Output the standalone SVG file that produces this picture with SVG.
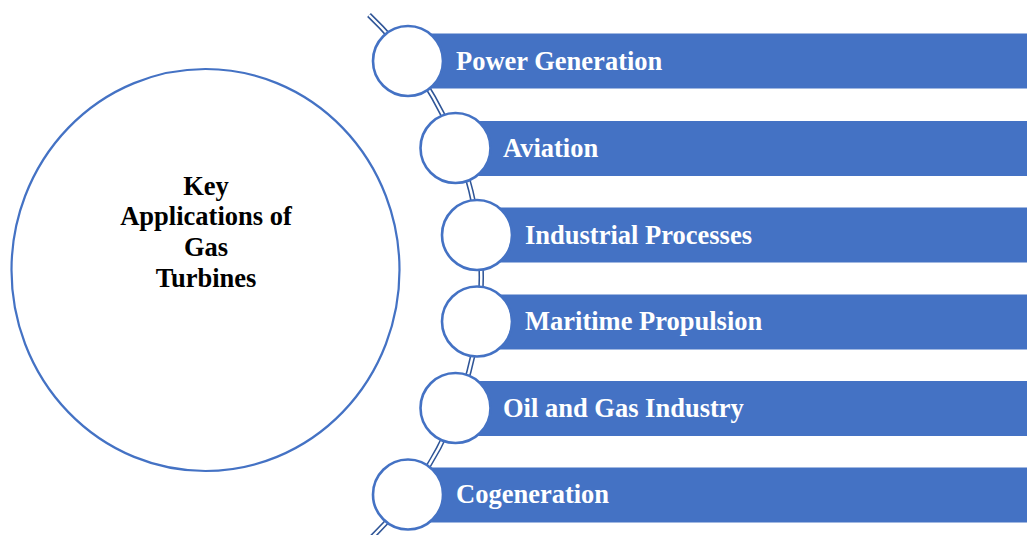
<svg xmlns="http://www.w3.org/2000/svg" width="1027" height="535" viewBox="0 0 1027 535">
  <style>
    .bar { fill: #4472C4; }
    .dot { fill: #FFFFFF; stroke: #4472C4; stroke-width: 2.6; }
    .label { font-family: "Liberation Serif", "Times New Roman", serif; font-weight: bold; font-size: 26.5px; fill: #FFFFFF; }
    .title { font-family: "Liberation Serif", "Times New Roman", serif; font-weight: bold; font-size: 26.5px; fill: #000000; text-anchor: middle; }
    .rail-outer { fill: none; stroke: #2F5597; stroke-width: 5.5; }
    .rail-inner { fill: none; stroke: #FFFFFF; stroke-width: 2.4; }
  </style>
  <rect width="1027" height="535" fill="#FFFFFF"/>

  <!-- curved double rail running through the item circles -->
  <g id="connectors">
    <path class="rail-outer" d="M 369 15 A 363 363 0 0 1 369 540"/>
    <path class="rail-inner" d="M 369 15 A 363 363 0 0 1 369 540"/>
  </g>

  <!-- central node -->
  <g id="center">
    <ellipse cx="205.5" cy="270" rx="194" ry="201" fill="#FFFFFF" stroke="#4472C4" stroke-width="2.2"/>
    <text class="title" x="206" y="195">Key</text>
    <text class="title" x="206" y="225">Applications of</text>
    <text class="title" x="206" y="256">Gas</text>
    <text class="title" x="206" y="287">Turbines</text>
  </g>

  <g id="power-generation">
    <rect class="bar" x="408" y="33.5" width="619" height="55"/>
    <circle class="dot" cx="408" cy="61" r="35"/>
    <text class="label" x="456" y="69.5">Power Generation</text>
  </g>

  <g id="aviation">
    <rect class="bar" x="455.5" y="121" width="571.5" height="55"/>
    <circle class="dot" cx="455.5" cy="148" r="35"/>
    <text class="label" x="503" y="156.5">Aviation</text>
  </g>

  <g id="industrial-processes">
    <rect class="bar" x="477" y="207.5" width="550" height="55"/>
    <circle class="dot" cx="477" cy="235" r="35"/>
    <text class="label" x="525" y="243.5">Industrial Processes</text>
  </g>

  <g id="maritime-propulsion">
    <rect class="bar" x="477" y="294.5" width="550" height="55"/>
    <circle class="dot" cx="477" cy="321.5" r="35"/>
    <text class="label" x="525" y="330">Maritime Propulsion</text>
  </g>

  <g id="oil-and-gas">
    <rect class="bar" x="455.5" y="381" width="571.5" height="55"/>
    <circle class="dot" cx="455.5" cy="408" r="35"/>
    <text class="label" x="503" y="416.5">Oil and Gas Industry</text>
  </g>

  <g id="cogeneration">
    <rect class="bar" x="408" y="467.5" width="619" height="55"/>
    <circle class="dot" cx="408" cy="494.5" r="35"/>
    <text class="label" x="456" y="503">Cogeneration</text>
  </g>
</svg>
